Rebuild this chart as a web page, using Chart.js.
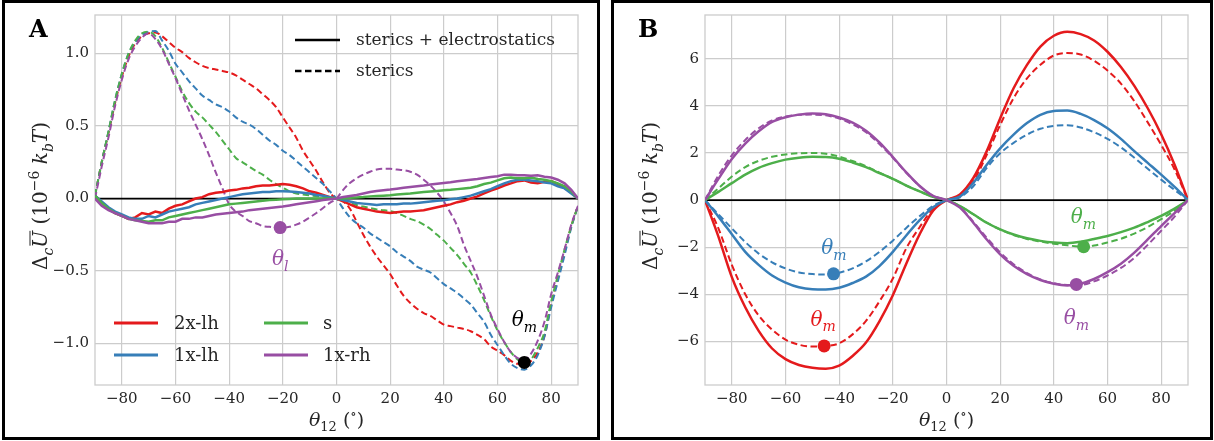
<!DOCTYPE html>
<html>
<head>
<meta charset="utf-8">
<script src="https://cdn.jsdelivr.net/npm/chart.js@4.4.1/dist/chart.umd.min.js"></script>
<style>
  html, body { margin: 0; padding: 0; background: #fff; }
  #wrap { position: relative; width: 1214px; height: 441px; }
  canvas { position: absolute; top: 0; }
  .box { position: absolute; top: 0; height: 440px; border: 3px solid #000; box-sizing: border-box; pointer-events: none; }
</style>
</head>
<body>
<div id="wrap">
  <canvas id="chartA" width="605" height="441" style="left:0"></canvas>
  <canvas id="chartB" width="607" height="441" style="left:607px"></canvas>
  <div class="box" style="left:2px;width:598px"></div>
  <div class="box" style="left:611px;width:602px"></div>
</div>
<script>
// ---- data ----
const seriesNames = ['2x-lh', '1x-lh', 's', '1x-rh'];
const seriesColors = ['#e41a1c', '#377eb8', '#4daf4a', '#984ea3'];
const xTicks = [-80, -60, -40, -20, 0, 20, 40, 60, 80];
const yTicksA = [-1.0, -0.5, 0.0, 0.5, 1.0];
const yTicksB = [-6, -4, -2, 0, 2, 4, 6];

// panel A, 2.5 degree grid
const thetaA = [-90, -87.5, -85, -82.5, -80, -77.5, -75, -72.5, -70, -67.5, -65, -62.5, -60, -57.5, -55, -52.5,
  -50, -47.5, -45, -42.5, -40, -37.5, -35, -32.5, -30, -27.5, -25, -22.5, -20, -17.5, -15, -12.5, -10, -7.5, -5, -2.5,
  0, 2.5, 5, 7.5, 10, 12.5, 15, 17.5, 20, 22.5, 25, 27.5, 30, 32.5, 35, 37.5, 40, 42.5, 45, 47.5,
  50, 52.5, 55, 57.5, 60, 62.5, 65, 67.5, 70, 72.5, 75, 77.5, 80, 82.5, 85, 87.5, 90];

// sterics + electrostatics (solid)
const a2xlhFull = [0.02, -0.03, -0.07, -0.10, -0.12, -0.14, -0.13, -0.10, -0.11, -0.09, -0.10, -0.07, -0.05, -0.04, -0.02, 0.00,
  0.01, 0.03, 0.04, 0.045, 0.055, 0.06, 0.07, 0.075, 0.085, 0.09, 0.09, 0.095, 0.10, 0.095, 0.085, 0.07, 0.05, 0.04, 0.025, 0.01,
  0, -0.02, -0.04, -0.06, -0.07, -0.08, -0.09, -0.095, -0.10, -0.095, -0.09, -0.09, -0.085, -0.08, -0.07, -0.06, -0.05, -0.04, -0.025, -0.015,
  0.0, 0.015, 0.035, 0.055, 0.07, 0.09, 0.105, 0.12, 0.125, 0.11, 0.105, 0.115, 0.12, 0.10, 0.075, 0.04, 0.0];
const a1xlhFull = [0.02, -0.02, -0.06, -0.09, -0.11, -0.13, -0.14, -0.14, -0.12, -0.13, -0.11, -0.09, -0.08, -0.07, -0.06, -0.04,
  -0.03, -0.02, -0.01, 0.0, 0.01, 0.02, 0.03, 0.035, 0.04, 0.045, 0.045, 0.05, 0.05, 0.048, 0.045, 0.04, 0.035, 0.025, 0.02, 0.01,
  0, -0.01, -0.02, -0.03, -0.035, -0.04, -0.045, -0.04, -0.04, -0.04, -0.035, -0.035, -0.03, -0.025, -0.02, -0.015, -0.012, -0.005, 0.0, 0.01,
  0.02, 0.035, 0.05, 0.065, 0.085, 0.105, 0.12, 0.13, 0.13, 0.125, 0.12, 0.11, 0.105, 0.085, 0.07, 0.035, 0.0];
const asFull = [0.02, -0.03, -0.07, -0.10, -0.12, -0.14, -0.15, -0.155, -0.16, -0.15, -0.15, -0.13, -0.12, -0.11, -0.10, -0.09,
  -0.08, -0.07, -0.06, -0.05, -0.04, -0.035, -0.03, -0.025, -0.02, -0.015, -0.01, -0.008, -0.005, -0.003, 0.0, 0.0, 0.0, 0.0, 0.0, 0.0,
  0, 0.0, 0.005, 0.008, 0.01, 0.015, 0.018, 0.02, 0.023, 0.028, 0.032, 0.035, 0.04, 0.045, 0.048, 0.052, 0.057, 0.06, 0.065, 0.07,
  0.075, 0.085, 0.10, 0.11, 0.125, 0.14, 0.145, 0.14, 0.14, 0.145, 0.135, 0.13, 0.12, 0.105, 0.085, 0.05, 0.0];
const a1xrhFull = [0.0, -0.05, -0.08, -0.10, -0.12, -0.14, -0.15, -0.16, -0.17, -0.17, -0.17, -0.16, -0.16, -0.14, -0.14, -0.13,
  -0.13, -0.12, -0.11, -0.105, -0.10, -0.095, -0.09, -0.08, -0.075, -0.07, -0.065, -0.06, -0.055, -0.048, -0.04, -0.032, -0.025, -0.018, -0.01, -0.005,
  0, 0.01, 0.018, 0.025, 0.035, 0.045, 0.052, 0.058, 0.062, 0.068, 0.075, 0.08, 0.085, 0.09, 0.097, 0.102, 0.108, 0.112, 0.12, 0.125,
  0.13, 0.135, 0.142, 0.148, 0.154, 0.165, 0.165, 0.16, 0.16, 0.158, 0.16, 0.15, 0.145, 0.13, 0.105, 0.06, 0.0];

// sterics only (dashed)
const a2xlhSter = [0.02, 0.25, 0.45, 0.66, 0.84, 0.98, 1.07, 1.12, 1.14, 1.145, 1.12, 1.08, 1.04, 1.01, 0.97, 0.94,
  0.915, 0.90, 0.89, 0.88, 0.87, 0.85, 0.82, 0.79, 0.76, 0.72, 0.68, 0.63, 0.56, 0.49, 0.42, 0.33, 0.26, 0.19, 0.11, 0.04,
  0, -0.02, -0.07, -0.16, -0.25, -0.33, -0.40, -0.46, -0.52, -0.60, -0.67, -0.72, -0.76, -0.79, -0.81, -0.84, -0.87, -0.88, -0.89, -0.90,
  -0.915, -0.94, -0.97, -1.02, -1.05, -1.08, -1.12, -1.14, -1.14, -1.12, -1.06, -0.95, -0.73, -0.55, -0.37, -0.19, -0.05];
const a1xlhSter = [0.02, 0.25, 0.46, 0.68, 0.86, 1.0, 1.08, 1.13, 1.15, 1.155, 1.09, 1.02, 0.93, 0.87, 0.81, 0.76,
  0.71, 0.68, 0.65, 0.63, 0.60, 0.56, 0.53, 0.51, 0.48, 0.44, 0.40, 0.37, 0.33, 0.30, 0.26, 0.22, 0.18, 0.14, 0.10, 0.05,
  0, -0.07, -0.13, -0.17, -0.20, -0.24, -0.27, -0.30, -0.33, -0.37, -0.40, -0.43, -0.47, -0.49, -0.51, -0.55, -0.59, -0.62, -0.65, -0.69,
  -0.73, -0.79, -0.85, -0.94, -1.01, -1.08, -1.14, -1.17, -1.18, -1.15, -1.08, -0.95, -0.75, -0.57, -0.39, -0.20, -0.05];
const asSter = [0.02, 0.25, 0.46, 0.68, 0.86, 1.0, 1.09, 1.14, 1.15, 1.12, 1.04, 0.94, 0.84, 0.74, 0.66, 0.60,
  0.56, 0.51, 0.46, 0.40, 0.34, 0.28, 0.25, 0.22, 0.19, 0.165, 0.13, 0.10, 0.075, 0.05, 0.035, 0.028, 0.022, 0.018, 0.012, 0.006,
  0, -0.015, -0.03, -0.045, -0.055, -0.065, -0.075, -0.08, -0.087, -0.10, -0.12, -0.14, -0.156, -0.18, -0.21, -0.25, -0.29, -0.34, -0.39, -0.45,
  -0.51, -0.60, -0.70, -0.81, -0.91, -0.99, -1.06, -1.11, -1.135, -1.11, -1.03, -0.92, -0.71, -0.53, -0.35, -0.19, -0.05];
const a1xrhSter = [0.0, 0.22, 0.42, 0.64, 0.82, 0.96, 1.05, 1.11, 1.14, 1.10, 1.03, 0.93, 0.83, 0.72, 0.61, 0.51,
  0.41, 0.30, 0.18, 0.07, -0.04, -0.09, -0.12, -0.155, -0.17, -0.19, -0.195, -0.20, -0.20, -0.195, -0.18, -0.16, -0.13, -0.10, -0.065, -0.03,
  0, 0.06, 0.108, 0.14, 0.165, 0.185, 0.20, 0.205, 0.205, 0.20, 0.195, 0.185, 0.165, 0.13, 0.09, 0.04, -0.02, -0.10, -0.19, -0.32,
  -0.43, -0.54, -0.67, -0.80, -0.90, -0.99, -1.06, -1.10, -1.11, -1.07, -0.98, -0.85, -0.66, -0.51, -0.35, -0.18, -0.05];

// panel B, 5 degree grid
const thetaB = [-90, -85, -80, -75, -70, -65, -60, -55, -50, -45, -40, -35, -30, -25, -20, -15, -10, -5,
  0, 5, 10, 15, 20, 25, 30, 35, 40, 45, 50, 55, 60, 65, 70, 75, 80, 85, 90];
const b2xlhFull = [0, -1.55, -3.27, -4.55, -5.55, -6.3, -6.75, -7.0, -7.12, -7.16, -7.03, -6.62, -6.05, -5.15, -4.04, -2.7, -1.45, -0.45,
  0, 0.24, 0.94, 2.08, 3.47, 4.75, 5.74, 6.52, 6.98, 7.15, 7.05, 6.78, 6.3, 5.65, 4.85, 3.9, 2.8, 1.5, 0];
const b2xlhSter = [0, -1.2, -2.75, -4.0, -4.9, -5.5, -5.92, -6.14, -6.22, -6.2, -6.08, -5.7, -5.13, -4.3, -3.33, -2.05, -1.15, -0.35,
  0, 0.2, 0.8, 1.92, 3.19, 4.33, 5.17, 5.75, 6.14, 6.25, 6.18, 5.92, 5.5, 4.95, 4.2, 3.3, 2.35, 1.3, 0];
const b1xlhFull = [0, -0.7, -1.45, -2.2, -2.75, -3.2, -3.5, -3.7, -3.78, -3.79, -3.72, -3.52, -3.25, -2.8, -2.2, -1.5, -0.85, -0.3,
  0, 0.15, 0.73, 1.5, 2.2, 2.78, 3.27, 3.62, 3.78, 3.8, 3.66, 3.4, 3.05, 2.6, 2.08, 1.58, 1.08, 0.56, 0];
const b1xlhSter = [0, -0.6, -1.2, -1.78, -2.27, -2.64, -2.9, -3.07, -3.14, -3.16, -3.08, -2.9, -2.6, -2.2, -1.72, -1.18, -0.68, -0.25,
  0, 0.12, 0.59, 1.37, 1.99, 2.43, 2.78, 3.03, 3.15, 3.18, 3.08, 2.88, 2.6, 2.24, 1.8, 1.33, 0.87, 0.43, 0];
const bsFull = [0, 0.35, 0.72, 1.08, 1.37, 1.57, 1.72, 1.8, 1.84, 1.83, 1.76, 1.6, 1.4, 1.15, 0.9, 0.62, 0.37, 0.14,
  0, -0.25, -0.6, -0.96, -1.24, -1.46, -1.62, -1.73, -1.8, -1.83, -1.77, -1.65, -1.52, -1.36, -1.17, -0.93, -0.67, -0.36, 0];
const bsSter = [0, 0.5, 1.0, 1.4, 1.67, 1.84, 1.94, 1.99, 2.0, 1.97, 1.85, 1.66, 1.44, 1.17, 0.9, 0.62, 0.37, 0.14,
  0, -0.25, -0.6, -0.96, -1.25, -1.48, -1.65, -1.76, -1.85, -1.92, -1.97, -1.93, -1.8, -1.64, -1.42, -1.14, -0.81, -0.45, 0];
const b1xrhFull = [0, 0.9, 1.75, 2.4, 2.92, 3.32, 3.52, 3.63, 3.68, 3.65, 3.51, 3.29, 2.95, 2.45, 1.83, 1.18, 0.6, 0.18,
  0, -0.32, -0.96, -1.67, -2.3, -2.79, -3.14, -3.39, -3.55, -3.62, -3.55, -3.35, -3.06, -2.7, -2.23, -1.67, -1.1, -0.55, 0];
const b1xrhSter = [0, 1.05, 1.9, 2.55, 3.05, 3.38, 3.55, 3.62, 3.63, 3.6, 3.46, 3.22, 2.88, 2.38, 1.8, 1.16, 0.6, 0.18,
  0, -0.3, -0.92, -1.6, -2.22, -2.72, -3.1, -3.37, -3.53, -3.6, -3.6, -3.45, -3.2, -2.88, -2.45, -1.9, -1.3, -0.7, 0];

// marked minima and their labels
const markAx = [-21, 70], markAy = [-0.20, -1.13], markAcol = ['#984ea3', '#000000'];
const tagAx = [-21, 70], tagAy = [-0.41, -0.83], tagAsub = ['l', 'm'], tagAcol = ['#984ea3', '#000000'];
const markBx = [-42.1, -45.6, 51.1, 48.4], markBy = [-3.13, -6.19, -1.98, -3.58];
const markBcol = ['#377eb8', '#e41a1c', '#4daf4a', '#984ea3'];
const tagBx = [-42, -46, 51, 48.4], tagBy = [-2.0, -5.03, -0.67, -4.97];
const tagBcol = ['#377eb8', '#e41a1c', '#4daf4a', '#984ea3'];

// ---- helpers ----
const SERIF = '"DejaVu Serif", serif';
const TXT = '#262626';
const fmtMinus = s => s.replace('-', '\u2212');

function lineSet(xs, ys, color, dashed, order, smooth) {
  return {
    type: 'line',
    data: xs.map((x, i) => ({ x, y: ys[i] })),
    borderColor: color,
    borderWidth: dashed ? 2.0 : 2.5,
    borderDash: dashed ? [6.5, 3.5] : [],
    pointRadius: 0,
    fill: false,
    cubicInterpolationMode: smooth ? 'monotone' : 'default',
    tension: 0,
    order: order
  };
}

function markSet(xs, ys, cols) {
  return {
    type: 'scatter',
    data: xs.map((x, i) => ({ x, y: ys[i] })),
    backgroundColor: cols,
    borderWidth: 0,
    pointRadius: 6.5,
    pointHoverRadius: 6.5,
    order: 0
  };
}

function drawRich(ctx, segs, cx, cy, size, color, rot) {
  ctx.save();
  ctx.translate(cx, cy);
  if (rot) ctx.rotate(rot);
  const small = Math.round(size * 0.7);
  const fontOf = s => (s.it ? 'italic ' : '') + ((s.sub || s.sup) ? small : size) + 'px ' + SERIF;
  let w = 0;
  segs.forEach(s => { ctx.font = fontOf(s); s.w = ctx.measureText(s.t).width; w += s.w; });
  let x = -w / 2;
  const base = size * 0.36;
  ctx.fillStyle = color;
  ctx.strokeStyle = color;
  ctx.textAlign = 'left';
  ctx.textBaseline = 'alphabetic';
  segs.forEach(s => {
    ctx.font = fontOf(s);
    const y = base + (s.sub ? size * 0.28 : s.sup ? -size * 0.42 : 0);
    ctx.fillText(s.t, x, y);
    if (s.bar) {
      ctx.lineWidth = 1;
      ctx.beginPath();
      ctx.moveTo(x + 2, base - size * 0.86);
      ctx.lineTo(x + s.w, base - size * 0.86);
      ctx.stroke();
    }
    x += s.w;
  });
  ctx.restore();
}

function legendLine(ctx, x1, x2, y, color, dashed, lw) {
  ctx.save();
  ctx.strokeStyle = color;
  ctx.lineWidth = lw;
  ctx.setLineDash(dashed ? [6.5, 3.5] : []);
  ctx.beginPath();
  ctx.moveTo(x1, y);
  ctx.lineTo(x2, y);
  ctx.stroke();
  ctx.restore();
}

const yTitle = () => [
  { t: 'Δ' }, { t: 'c', it: true, sub: true }, { t: 'U', it: true, bar: true },
  { t: ' (10' }, { t: '\u22126', sup: true }, { t: ' ' }, { t: 'k', it: true }, { t: 'b', it: true, sub: true },
  { t: 'T', it: true }, { t: ')' }
];
const xTitle = () => [{ t: 'θ', it: true }, { t: '12', sub: true }, { t: ' (' }, { t: '∘', sup: true }, { t: ')' }];

// frame, titles, legends, labels
const decor = {
  id: 'decor',
  beforeDatasetsDraw(chart) {
    const a = chart.chartArea, ctx = chart.ctx;
    ctx.save();
    ctx.strokeStyle = '#cccccc';
    ctx.lineWidth = 1.3;
    ctx.strokeRect(a.left, a.top, a.right - a.left, a.bottom - a.top);
    ctx.restore();
  },
  afterDraw(chart, args, o) {
    const a = chart.chartArea, ctx = chart.ctx;
    const sx = chart.scales.x, sy = chart.scales.y;
    // panel letter
    ctx.save();
    ctx.fillStyle = '#000';
    ctx.font = 'bold 24px ' + SERIF;
    ctx.textBaseline = 'alphabetic';
    ctx.fillText(o.letter, o.letterX, 37);
    ctx.restore();
    // axis titles
    drawRich(ctx, xTitle(), (a.left + a.right) / 2, 419, 19, TXT, 0);
    drawRich(ctx, yTitle(), o.yTitleX, 196, 20, TXT, -Math.PI / 2);
    // minimum labels
    o.tags.x.forEach((xv, i) => {
      drawRich(ctx, [{ t: 'θ', it: true }, { t: o.tags.sub[i], it: true, sub: true }],
        sx.getPixelForValue(xv), sy.getPixelForValue(o.tags.y[i]), 20, o.tags.col[i], 0);
    });
    if (o.legends) {
      ctx.save();
      ctx.textBaseline = 'middle';
      ctx.textAlign = 'left';
      ctx.fillStyle = TXT;
      ctx.font = '17px ' + SERIF;
      legendLine(ctx, 295, 340, 40, '#000', false, 2.5);
      ctx.fillText('sterics + electrostatics', 356, 41);
      legendLine(ctx, 295, 340, 71, '#000', true, 2.5);
      ctx.fillText('sterics', 356, 72);
      ctx.font = '18px ' + SERIF;
      seriesNames.forEach((n, i) => {
        const col = Math.floor(i / 2), row = i % 2;
        const lx = col ? 264 : 114, tx = col ? 323 : 174, y = row ? 355 : 323;
        legendLine(ctx, lx, lx + 44, y, seriesColors[i], false, 2.8);
        ctx.fillStyle = TXT;
        ctx.fillText(n, tx, y + 1);
      });
      ctx.restore();
    }
  }
};

function makeScales(yMin, yMax, yTicks, yWidth, yFmt) {
  return {
    x: {
      type: 'linear', min: -90, max: 90,
      afterBuildTicks: s => { s.ticks = xTicks.map(v => ({ value: v })); },
      afterFit: s => { s.height = 56; },
      grid: { color: '#cccccc', lineWidth: 1.2, drawTicks: false },
      border: { display: false },
      ticks: { padding: 5, color: TXT, font: { family: SERIF, size: 15 }, callback: v => fmtMinus(String(v)) }
    },
    y: {
      type: 'linear', min: yMin, max: yMax,
      afterBuildTicks: s => { s.ticks = yTicks.map(v => ({ value: v })); },
      afterFit: s => { s.width = yWidth; },
      grid: { color: '#cccccc', lineWidth: 1.2, drawTicks: false },
      border: { display: false },
      ticks: { padding: 6, color: TXT, font: { family: SERIF, size: 15 }, callback: v => fmtMinus(yFmt(v)) }
    }
  };
}

const zeroLine = { type: 'line', data: [{ x: -90, y: 0 }, { x: 90, y: 0 }], borderColor: '#000', borderWidth: 1.8, pointRadius: 0, order: 20 };

const fullA = [a2xlhFull, a1xlhFull, asFull, a1xrhFull];
const sterA = [a2xlhSter, a1xlhSter, asSter, a1xrhSter];
const fullB = [b2xlhFull, b1xlhFull, bsFull, b1xrhFull];
const sterB = [b2xlhSter, b1xlhSter, bsSter, b1xrhSter];

const common = {
  responsive: false,
  animation: false,
  devicePixelRatio: 1,
  events: [],
  plugins: { legend: { display: false }, tooltip: { enabled: false } }
};

new Chart(document.getElementById('chartA'), {
  type: 'line',
  data: {
    datasets: [
      markSet(markAx, markAy, markAcol),
      ...fullA.map((ys, i) => lineSet(thetaA, ys, seriesColors[i], false, 1 + (3 - i), false)),
      ...sterA.map((ys, i) => lineSet(thetaA, ys, seriesColors[i], true, 5 + (3 - i), true)),
      zeroLine
    ]
  },
  options: {
    ...common,
    layout: { padding: { left: 0, top: 13, right: 27, bottom: 0 } },
    scales: makeScales(-1.286, 1.266, yTicksA, 95, v => v.toFixed(1)),
    plugins: {
      ...common.plugins,
      decor: { letter: 'A', letterX: 29, yTitleX: 40, legends: true,
        tags: { x: tagAx, y: tagAy, sub: tagAsub, col: tagAcol } }
    }
  },
  plugins: [decor]
});

new Chart(document.getElementById('chartB'), {
  type: 'line',
  data: {
    datasets: [
      markSet(markBx, markBy, markBcol),
      ...fullB.map((ys, i) => lineSet(thetaB, ys, seriesColors[i], false, 1 + (3 - i), true)),
      ...sterB.map((ys, i) => lineSet(thetaB, ys, seriesColors[i], true, 5 + (3 - i), true)),
      zeroLine
    ]
  },
  options: {
    ...common,
    layout: { padding: { left: 0, top: 13, right: 26, bottom: 0 } },
    scales: makeScales(-7.85, 7.86, yTicksB, 98, v => String(v)),
    plugins: {
      ...common.plugins,
      decor: { letter: 'B', letterX: 31, yTitleX: 43, legends: false,
        tags: { x: tagBx, y: tagBy, sub: ['m', 'm', 'm', 'm'], col: tagBcol } }
    }
  },
  plugins: [decor]
});
</script>
</body>
</html>
